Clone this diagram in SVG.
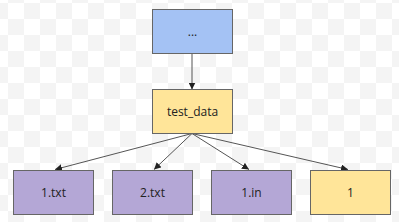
<svg xmlns="http://www.w3.org/2000/svg" width="399" height="222" viewBox="0 0 399 222">
<defs>
<pattern id="chk" patternUnits="userSpaceOnUse" x="-8" y="3" width="32" height="32">
<rect width="32" height="32" fill="#ffffff"/>
<rect width="16" height="16" fill="#f4f4f4"/>
<rect x="16" y="16" width="16" height="16" fill="#f4f4f4"/>
</pattern>
<marker id="arr" viewBox="0 0 10 10" refX="10" refY="5" markerWidth="7" markerHeight="7" orient="auto" markerUnits="userSpaceOnUse">
<path d="M0,0 L10,5 L0,10 z" fill="#222"/>
</marker>
<style>
.box{stroke:#666;stroke-width:1}
.blue{fill:#a4c2f4}
.yel{fill:#ffe599}
.pur{fill:#b4a7d6}
.lbl{font-family:"Open Sans","Noto Sans",sans-serif;font-size:12px;fill:#222;text-anchor:middle;dominant-baseline:central}
.edge{stroke:#555;stroke-width:1;fill:none;marker-end:url(#arr)}
</style>
</defs>
<rect width="399" height="222" fill="url(#chk)"/>
<g id="connectors">
<line class="edge" x1="192" y1="53.5" x2="192" y2="89.5"/>
<line class="edge" x1="192" y1="133.5" x2="55" y2="169.5"/>
<line class="edge" x1="192" y1="133.5" x2="154" y2="169.5"/>
<line class="edge" x1="192" y1="133.5" x2="249" y2="169.5"/>
<line class="edge" x1="192" y1="133.5" x2="348" y2="169.5"/>
</g>
<g id="node-root"><rect class="box blue" x="152.5" y="9.5" width="80" height="44"/><text class="lbl" x="192.5" y="31.5">...</text></g>
<g id="node-test_data"><rect class="box yel" x="152.5" y="89.5" width="80" height="44"/><text class="lbl" x="192.5" y="111.5">test_data</text></g>
<g id="node-1txt"><rect class="box pur" x="13.5" y="170.5" width="80" height="44"/><text class="lbl" x="53.5" y="192.5">1.txt</text></g>
<g id="node-2txt"><rect class="box pur" x="112.5" y="170.5" width="80" height="44"/><text class="lbl" x="152.5" y="192.5">2.txt</text></g>
<g id="node-1in"><rect class="box pur" x="211.5" y="170.5" width="80" height="44"/><text class="lbl" x="251.5" y="192.5">1.in</text></g>
<g id="node-1"><rect class="box yel" x="310.5" y="170.5" width="80" height="44"/><text class="lbl" x="350.5" y="192.5">1</text></g>
</svg>
